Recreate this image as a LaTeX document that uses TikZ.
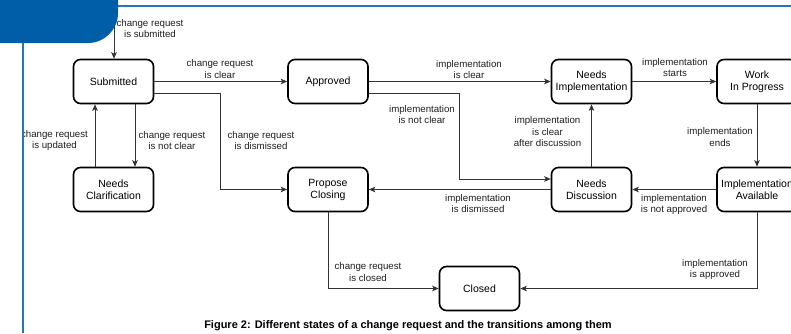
\documentclass[tikz,border=0pt]{standalone}
\usepackage{fontspec}
\setmainfont{Liberation Sans}
\usetikzlibrary{arrows.meta,calc}
\definecolor{hdrblue}{HTML}{005EA8}
\definecolor{edgegray}{HTML}{333333}
\tikzset{
  state/.style={draw=black, line width=1.6pt, rounded corners=7pt, minimum width=80pt, minimum height=44pt,
    inner sep=0pt, align=center, font=\fontsize{10.5}{12}\selectfont, fill=white},
  lbl/.style={inner sep=0pt, align=center, font=\fontsize{9.7}{11.5}\selectfont, text=black!88},
  arr/.style={draw=edgegray, line width=0.8pt, -{Stealth[length=6.5pt,width=5.5pt,inset=1.5pt]}},
  plain/.style={draw=edgegray, line width=0.8pt}
}
\begin{document}
\begin{tikzpicture}[x=1pt,y=-1pt]
\useasboundingbox (0,0) rectangle (791,333);
\clip (0,0) rectangle (791,333);
\fill[white] (0,0) rectangle (791,333);
% states
\node[state] (sub)  at (113.5,81.5) {Submitted};
\node[state] (app)  at (328,81.5)   {Approved};
\node[state] (nimp) at (591.5,81.5) {Needs\\Implementation};
\node[state] (wip)  at (757,81.5)   {Work\\In Progress};
\node[state] (ncl)  at (113.5,189.5) {Needs\\Clarification};
\node[state] (pc)   at (328,189.5)  {Propose\\Closing};
\node[state] (nd)   at (591.5,189.5) {Needs\\Discussion};
\node[state] (ia)   at (757,189.5)  {Implementation\\Available};
\node[state] (cl)   at (479.5,288.5) {Closed};
% start
\coordinate (start) at (114,0);
\draw[arr] (start) -- (start |- sub.north);
\node[lbl] (l1) at (150,28.5) {change request\\is submitted};
% edges
\draw[arr] (sub.east) -- (app.west);
\node[lbl] (l2) at (220,69) {change request\\is clear};
\draw[arr] ([yshift=-11.5pt]sub.east) -| ([xshift=-66.5pt]pc.west) -- (pc.west);
\node[lbl] (l3) at (261,140.5) {change request\\is dismissed};
\draw[arr] ([xshift=21.5pt]sub.south) -- ([xshift=21.5pt]ncl.north);
\node[lbl] (l4) at (172,140.5) {change request\\is not clear};
\draw[arr] ([xshift=-18.5pt]ncl.north) -- ([xshift=-18.5pt]sub.south);
\node[lbl] (l5) at (54.5,140.5) {change request\\is updated};
\draw[arr] (app.east) -- (nimp.west);
\node[lbl] (l6) at (469,69.5) {implementation\\is clear};
\draw[arr] ([yshift=-11.5pt]app.east) -| ([xshift=-91pt,yshift=10.5pt]nd.west) -- ([yshift=10.5pt]nd.west);
\node[lbl] (l7) at (422,114.5) {implementation\\is not clear};
\draw[arr] (nimp.east) -- (wip.west);
\node[lbl] (l8) at (675,67.5) {implementation\\starts};
\draw[arr] (wip.south) -- (ia.north);
\node[lbl] (l9) at (720,137) {implementation\\ends};
\draw[arr] (ia.west) -- (nd.east);
\node[lbl] (l10) at (674,204.5) {implementation\\is not approved};
\draw[arr] (nd.north) -- (nimp.south);
\node[lbl] (l11) at (547.5,132) {implementation\\is clear\\after discussion};
\draw[arr] (nd.west) -- (pc.east);
\node[lbl] (l12) at (478,203.5) {implementation\\is dismissed};
\draw[arr] (pc.south) |- (cl.west);
\node[lbl] (l13) at (368,272) {change request\\is closed};
\draw[arr] (ia.south) |- (cl.east);
\node[lbl] (l14) at (715,269.5) {implementation\\is approved};
% caption
\node[inner sep=0pt, font=\fontsize{11}{12}\selectfont\bfseries] (cap) at (408,326)
  {Figure 2: Different states of a change request and the transitions among them};
% page decoration
\fill[white] (0,43) rectangle (24.4,333);
\fill[hdrblue] (0,0) -- (118,0) [rounded corners=30pt] -- (118,43) [sharp corners] -- (0,43) -- cycle;
\draw[hdrblue!85, line width=1.8pt] (118,6) -- (791,6);
\draw[hdrblue!85, line width=1.8pt] (23.3,43) -- (23.3,333);
\end{tikzpicture}
\end{document}
